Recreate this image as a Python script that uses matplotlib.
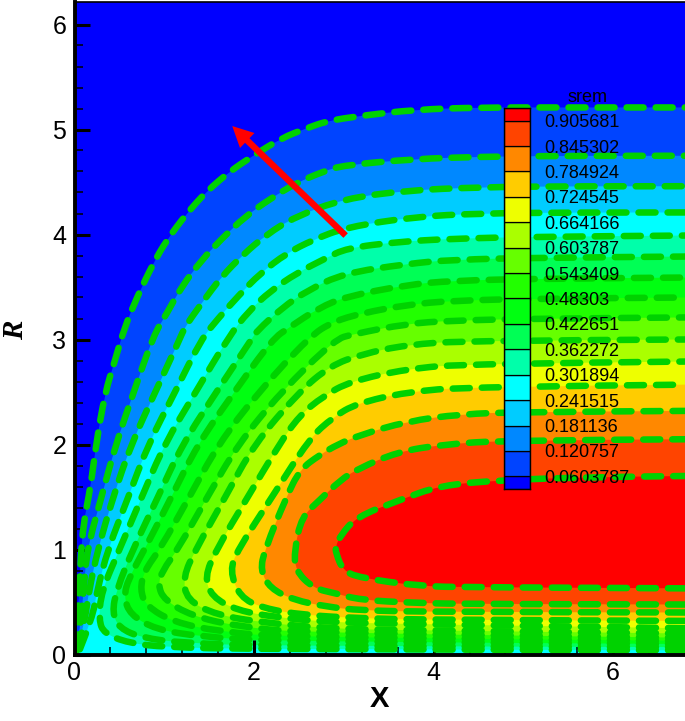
import matplotlib
matplotlib.use("Agg")
import matplotlib.pyplot as plt
from matplotlib.path import Path
from matplotlib.patches import PathPatch

plt.rcParams['font.family'] = ['Liberation Sans', 'DejaVu Sans']

levels = [0.0603787, 0.120757, 0.181136, 0.241515, 0.301894, 0.362272, 0.422651, 0.48303,
          0.543409, 0.603787, 0.664166, 0.724545, 0.784924, 0.845302, 0.905681]
level_labels = ["0.0603787", "0.120757", "0.181136", "0.241515", "0.301894", "0.362272",
                "0.422651", "0.48303", "0.543409", "0.603787", "0.664166", "0.724545",
                "0.784924", "0.845302", "0.905681"]
band_colors = ["#0000FF", "#0044FF", "#0088FF", "#00CCFF", "#00FFFF", "#00FFAA", "#00FF55", "#00FF11",
               "#22FF00", "#66FF00", "#AAFF00", "#EEFF00", "#FFCC00", "#FF8800", "#FF4400", "#FF0000"]

# contour lines, from the top right end round to the bottom
c1_x = [6.8, 5.5, 4.5, 3.8, 3.18, 2.81, 2.58, 2.31, 1.97, 1.73, 1.47, 1.25, 1.03, 0.88, 0.70, 0.56, 0.45, 0.34, 0.24, 0.18, 0.10, 0.07, 0.05, 0.03, 0.01]
c1_r = [5.21, 5.21, 5.21, 5.19, 5.13, 5.08, 5.01, 4.92, 4.74, 4.60, 4.41, 4.20, 3.95, 3.73, 3.41, 3.12, 2.80, 2.49, 2.00, 1.60, 1.25, 0.93, 0.58, 0.30, 0.03]
c2_x = [6.8, 5.5, 4.5, 3.8, 3.0, 2.77, 2.47, 2.18, 1.90, 1.64, 1.42, 1.19, 1.03, 0.88, 0.66, 0.46, 0.30, 0.14, 0.10, 0.07, 0.02]
c2_r = [4.75, 4.75, 4.74, 4.72, 4.66, 4.60, 4.49, 4.34, 4.17, 3.96, 3.76, 3.50, 3.25, 3.04, 2.50, 2.00, 1.50, 1.00, 0.60, 0.30, 0.03]
c3_x = [6.8, 5.5, 4.5, 3.7, 3.0, 2.46, 2.14, 1.88, 1.64, 1.42, 1.23, 1.17, 0.90, 0.63, 0.43, 0.26, 0.16, 0.12, 0.04]
c3_r = [4.46, 4.46, 4.45, 4.42, 4.34, 4.17, 4.00, 3.81, 3.60, 3.35, 3.12, 3.00, 2.50, 2.00, 1.50, 1.00, 0.60, 0.35, 0.05]
c4_x = [6.8, 5.5, 4.5, 3.8, 3.03, 2.66, 2.36, 2.07, 1.83, 1.60, 1.41, 1.12, 0.82, 0.60, 0.37, 0.25, 0.20, 0.06]
c4_r = [4.21, 4.21, 4.20, 4.17, 4.07, 3.95, 3.82, 3.63, 3.42, 3.20, 3.00, 2.50, 2.00, 1.50, 1.00, 0.60, 0.35, 0.05]
c5_x = [6.8, 5.2, 4.2, 3.6, 3.03, 2.79, 2.47, 2.18, 1.94, 1.72, 1.35, 1.00, 0.75, 0.50, 0.30, 0.27, 0.33, 0.60, 1.0, 2.0, 6.8]
c5_r = [3.99, 3.98, 3.96, 3.93, 3.87, 3.77, 3.63, 3.46, 3.27, 3.03, 2.50, 2.00, 1.50, 1.00, 0.60, 0.33, 0.20, 0.11, 0.07, 0.05, 0.04]
c6_x = [6.8, 5.2, 4.2, 3.7, 3.0, 2.6, 2.31, 2.03, 1.97, 1.58, 1.20, 0.93, 0.65, 0.47, 0.42, 0.50, 0.75, 1.2, 2.2, 6.8]
c6_r = [3.79, 3.78, 3.76, 3.72, 3.63, 3.47, 3.30, 3.08, 3.00, 2.50, 2.00, 1.50, 1.00, 0.62, 0.40, 0.25, 0.16, 0.11, 0.08, 0.07]
c7_x = [6.8, 5.2, 4.2, 3.7, 3.03, 2.72, 2.40, 2.20, 1.78, 1.37, 1.08, 0.78, 0.60, 0.55, 0.62, 0.90, 1.4, 2.3, 6.8]
c7_r = [3.59, 3.58, 3.56, 3.52, 3.41, 3.30, 3.12, 3.00, 2.50, 2.00, 1.50, 1.00, 0.72, 0.55, 0.38, 0.24, 0.17, 0.12, 0.10]
c8_x = [6.8, 5.2, 4.2, 3.7, 3.2, 2.88, 2.62, 2.05, 1.60, 1.28, 0.95, 0.78, 0.73, 0.80, 1.1, 1.6, 2.4, 6.8]
c8_r = [3.40, 3.39, 3.37, 3.33, 3.25, 3.17, 3.03, 2.50, 2.00, 1.50, 1.00, 0.80, 0.62, 0.46, 0.31, 0.22, 0.16, 0.13]
c9_x = [6.8, 5.2, 4.2, 3.7, 3.1, 2.9, 2.30, 1.82, 1.48, 1.15, 0.98, 0.93, 1.0, 1.3, 1.8, 2.6, 6.8]
c9_r = [3.21, 3.20, 3.18, 3.15, 3.05, 3.00, 2.50, 2.00, 1.50, 1.00, 0.80, 0.66, 0.52, 0.37, 0.27, 0.20, 0.16]
c10_x = [6.8, 4.4, 3.7, 3.2, 2.85, 2.50, 2.00, 1.68, 1.35, 1.21, 1.25, 1.58, 2.14, 2.81, 3.6, 6.8]
c10_r = [3.00, 2.99, 2.95, 2.86, 2.75, 2.50, 2.00, 1.50, 1.00, 0.74, 0.52, 0.376, 0.30, 0.25, 0.23, 0.20]
c11_x = [6.8, 4.4, 3.7, 3.07, 2.77, 2.50, 2.28, 1.93, 1.58, 1.45, 1.53, 1.81, 2.25, 2.81, 3.6, 6.8]
c11_r = [2.79, 2.77, 2.72, 2.60, 2.46, 2.27, 2.00, 1.50, 1.00, 0.74, 0.55, 0.42, 0.354, 0.31, 0.29, 0.25]
c12_x = [6.8, 4.4, 3.7, 3.14, 2.88, 2.62, 2.20, 1.82, 1.73, 1.84, 2.10, 2.55, 3.18, 4.0, 6.8]
c12_r = [2.57, 2.55, 2.50, 2.39, 2.26, 2.06, 1.50, 1.00, 0.80, 0.55, 0.44, 0.376, 0.345, 0.33, 0.32]
c13_x = [6.8, 5.0, 4.3, 3.7, 3.18, 2.93, 2.73, 2.51, 2.36, 2.12, 2.07, 2.18, 2.44, 2.81, 3.18, 4.0, 6.8]
c13_r = [2.32, 2.31, 2.29, 2.22, 2.09, 2.00, 1.90, 1.76, 1.50, 1.00, 0.80, 0.63, 0.52, 0.455, 0.42, 0.405, 0.40]
c14_x = [6.8, 4.8, 4.1, 3.6, 3.16, 2.96, 2.73, 2.53, 2.45, 2.46, 2.66, 2.92, 3.18, 3.8, 4.5, 6.8]
c14_r = [2.05, 2.04, 2.00, 1.93, 1.77, 1.66, 1.47, 1.31, 1.00, 0.80, 0.63, 0.58, 0.52, 0.49, 0.48, 0.476]
c15_x = [6.8, 5.74, 4.74, 4.07, 3.62, 3.14, 2.96, 2.91, 2.91, 2.99, 3.18, 3.85, 4.4, 6.8]
c15_r = [1.70, 1.69, 1.66, 1.61, 1.47, 1.31, 1.13, 1.03, 0.97, 0.80, 0.73, 0.65, 0.64, 0.63]

contours = [(c1_x, c1_r), (c2_x, c2_r), (c3_x, c3_r), (c4_x, c4_r), (c5_x, c5_r),
            (c6_x, c6_r), (c7_x, c7_r), (c8_x, c8_r), (c9_x, c9_r), (c10_x, c10_r),
            (c11_x, c11_r), (c12_x, c12_r), (c13_x, c13_r), (c14_x, c14_r), (c15_x, c15_r)]

W, H = 685, 721
X_MAX = (685 - 74.5) / 89.8
R_MAX = (654.5 - 2) / 105


def curve_path(xs, rs, close_pts=None):
    # quadratic pieces with the read points as control points
    pts = list(zip(xs, rs))
    verts = [pts[0]]
    codes = [Path.MOVETO]
    for i in range(1, len(pts) - 1):
        mid = ((pts[i][0] + pts[i + 1][0]) / 2, (pts[i][1] + pts[i + 1][1]) / 2)
        if i == len(pts) - 2:
            mid = pts[i + 1]
        verts += [pts[i], mid]
        codes += [Path.CURVE3, Path.CURVE3]
    if close_pts:
        verts += close_pts
        codes += [Path.LINETO] * len(close_pts)
    return Path(verts, codes)


fig = plt.figure(figsize=(W / 100, H / 100), dpi=100)
ax = fig.add_axes([74.5 / W, (H - 654.5) / H, (W - 74.5) / W, (654.5 - 2) / H])
ax.set_facecolor(band_colors[0])

for i, (xs, rs) in enumerate(contours):
    if xs[-1] < 1:
        closing = [(0, 0), (8, 0), (8, rs[0])]
    else:
        closing = [(8, rs[-1]), (8, rs[0])]
    ax.add_patch(PathPatch(curve_path(xs, rs, closing), facecolor=band_colors[i + 1], edgecolor="none", zorder=1 + i * 0.01))

for xs, rs in contours:
    ax.add_patch(PathPatch(curve_path(xs[::-1], rs[::-1]), facecolor="none", edgecolor="#00D200", lw=4.7,
                           linestyle=(0, (2.6, 1.85)), capstyle="round", zorder=3))

ax.annotate("", xy=(1.757, 5.033), xytext=(3.02, 3.99), zorder=4,
            arrowprops=dict(facecolor="#FF0000", edgecolor="none", width=4.6, headwidth=15, headlength=15, shrink=0))

ax.set_xlim(0, X_MAX)
ax.set_ylim(0, R_MAX)
ax.set_xticks([0, 2, 4, 6])
ax.set_yticks([0, 1, 2, 3, 4, 5, 6])
ax.set_xticks([i * 0.4 for i in range(1, 18) if i % 5 != 0], minor=True)
ax.set_yticks([i * 0.2 for i in range(1, 31) if i % 5 != 0], minor=True)
ax.tick_params(which="major", direction="in", length=10.5, width=2.2, labelsize=18, pad=6, zorder=5)
ax.tick_params(axis="x", which="major", pad=4.5)
ax.tick_params(which="minor", direction="in", length=5.5, width=1.1, zorder=5)
ax.spines["right"].set_visible(False)
ax.spines["top"].set_linewidth(1.2)
for s in ["left", "bottom"]:
    ax.spines[s].set_linewidth(2.8)
    ax.spines[s].set_zorder(6)

fig.text(379 / W, 1 - 699 / H, "X", fontsize=21, fontweight="bold", ha="center", va="center")
fig.text(16 / W, 1 - 330 / H, "R", fontsize=21, fontweight="bold", fontstyle="italic", family="Liberation Serif",
         rotation=90, ha="center", va="center")

step = levels[1] - levels[0]
bounds = [levels[0] - step / 2] + [v for v in levels] + [levels[-1] + step / 2]
leg = fig.add_axes([504 / W, 1 - 489 / H, 26 / W, 381 / H], facecolor="none", zorder=10)
for i, col in enumerate(band_colors):
    leg.fill_between([0, 1], bounds[i], bounds[i + 1], facecolor=col, edgecolor="black", linewidth=0.9)
leg.set_xlim(0, 1)
leg.set_ylim(bounds[0], bounds[-1])
leg.set_xticks([])
leg.yaxis.tick_right()
leg.set_yticks(levels)
leg.set_yticklabels(level_labels)
leg.tick_params(axis="y", length=0, pad=10.5, labelsize=13)
for s in leg.spines.values():
    s.set_linewidth(1.0)
fig.text(588 / W, 1 - 98 / H, "srem", fontsize=13, ha="center", va="center", zorder=11)

fig.savefig("out.png", dpi=100)
